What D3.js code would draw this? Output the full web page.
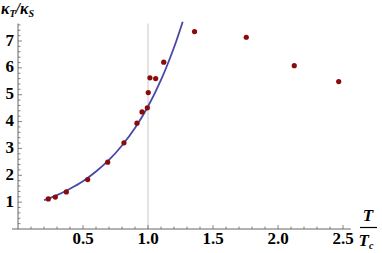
<!DOCTYPE html>
<html>
<head>
<meta charset="utf-8">
<script src="https://cdn.jsdelivr.net/npm/d3@7"></script>
<style>
  body { margin: 0; background: #fff; }
  svg { display: block; }
</style>
</head>
<body>
<div id="chart"></div>
<script>
// measured points (T/Tc, kT/kS)
const tRatio = [0.233, 0.287, 0.372, 0.536, 0.69, 0.815, 0.915, 0.954, 0.995, 1.002, 1.015, 1.059, 1.121, 1.358, 1.756, 2.125, 2.467];
const kRatio = [1.12, 1.19, 1.38, 1.84, 2.49, 3.21, 3.94, 4.36, 4.51, 5.08, 5.63, 5.60, 6.21, 7.35, 7.14, 6.08, 5.49];

// fitted curve
const curveT = [0.2, 0.3, 0.4, 0.5, 0.6, 0.7, 0.8, 0.9, 1.0, 1.1, 1.2, 1.267];
const curveK = [1.07, 1.26, 1.50, 1.78, 2.14, 2.57, 3.11, 3.76, 4.56, 5.55, 6.76, 7.72];

const xTicks = [0.5, 1.0, 1.5, 2.0, 2.5];
const yTicks = [1, 2, 3, 4, 5, 6, 7];

const width = 382, height = 253;
const bold = "font-family: 'Liberation Serif'; font-weight: bold;";

const x = d3.scaleLinear().domain([0, 2.5]).range([18, 343]);
const y = d3.scaleLinear().domain([0, 7]).range([229, 41]);

const svg = d3.select("#chart").append("svg")
  .attr("width", width)
  .attr("height", height);

const axisColor = "#666";

// gridline at T = Tc
svg.append("line")
  .attr("x1", x(1)).attr("x2", x(1))
  .attr("y1", y(0)).attr("y2", y(7.65))
  .attr("stroke", "#c8c8c8").attr("stroke-width", 1);

// x axis
svg.append("line")
  .attr("x1", 12).attr("x2", x(2.56))
  .attr("y1", y(0)).attr("y2", y(0))
  .attr("stroke", axisColor);

const xMinor = d3.range(1, 26).map(d => d / 10);
svg.selectAll(".xtick")
  .data(xMinor)
  .join("line")
  .attr("x1", d => x(d)).attr("x2", d => x(d))
  .attr("y1", y(0))
  .attr("y2", d => y(0) - (Math.abs(d * 2 - Math.round(d * 2)) < 1e-6 ? 4 : 2.5))
  .attr("stroke", axisColor).attr("stroke-width", 0.8);

svg.selectAll(".xlab")
  .data(xTicks)
  .join("text")
  .attr("x", d => x(d))
  .attr("y", 244)
  .attr("text-anchor", "middle")
  .attr("style", bold + " font-size: 17px;")
  .text(d => d3.format(".1f")(d));

// y axis
svg.append("line")
  .attr("x1", x(0)).attr("x2", x(0))
  .attr("y1", y(0)).attr("y2", y(7.65))
  .attr("stroke", axisColor);

const yMinor = d3.range(1, 39).map(d => d / 5);
svg.selectAll(".ytick")
  .data(yMinor)
  .join("line")
  .attr("x1", x(0))
  .attr("x2", d => x(0) + (Math.abs(d - Math.round(d)) < 1e-6 ? 4 : 2.5))
  .attr("y1", d => y(d)).attr("y2", d => y(d))
  .attr("stroke", axisColor).attr("stroke-width", 0.8);

svg.selectAll(".ylab")
  .data(yTicks)
  .join("text")
  .attr("x", 14)
  .attr("y", d => y(d) + 4.5)
  .attr("text-anchor", "end")
  .attr("style", bold + " font-size: 17px;")
  .text(d => d);

// y label  kT/kS
const ylab = svg.append("text")
  .attr("x", 1).attr("y", 14)
  .attr("style", bold + " font-style: italic; font-size: 16px;");
ylab.append("tspan").text("κ");
ylab.append("tspan").attr("style", "font-size: 10px;").attr("dy", 3).text("T");
ylab.append("tspan").attr("dy", -3).text("/κ");
ylab.append("tspan").attr("style", "font-size: 10px;").attr("dy", 3).text("S");

// x label  T/Tc
svg.append("text")
  .attr("x", 368).attr("y", 221)
  .attr("text-anchor", "middle")
  .attr("style", bold + " font-style: italic; font-size: 17px;")
  .text("T");
svg.append("line")
  .attr("x1", 360).attr("x2", 377)
  .attr("y1", 227.5).attr("y2", 227.5)
  .attr("stroke", "#000").attr("stroke-width", 1.2);
const tc = svg.append("text")
  .attr("x", 366).attr("y", 246)
  .attr("text-anchor", "middle")
  .attr("style", bold + " font-style: italic; font-size: 17px;");
tc.append("tspan").text("T");
tc.append("tspan").attr("style", "font-size: 10px;").attr("dy", 3).text("c");

// fitted curve
const line = d3.line()
  .x((d, i) => x(curveT[i]))
  .y(d => y(d))
  .curve(d3.curveCatmullRom);

svg.append("path")
  .attr("d", line(curveK))
  .attr("fill", "none")
  .attr("stroke", "#4848a8")
  .attr("stroke-width", 1.8);

// data points
svg.selectAll(".pt")
  .data(kRatio)
  .join("circle")
  .attr("cx", (d, i) => x(tRatio[i]))
  .attr("cy", d => y(d))
  .attr("r", 2.6)
  .attr("fill", "#8b0a0a");
</script>
</body>
</html>
